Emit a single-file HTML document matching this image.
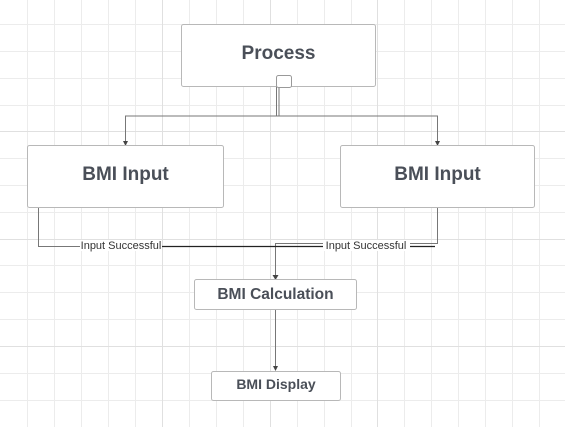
<!DOCTYPE html>
<html><head><meta charset="utf-8"><style>
html,body{margin:0;padding:0;background:#fff;}
svg{display:block;font-family:"Liberation Sans",sans-serif;}
</style></head><body>
<svg width="565" height="427" viewBox="0 0 565 427" xmlns="http://www.w3.org/2000/svg">
<g stroke="#ececec" stroke-width="1">
<line x1="27.5" y1="0" x2="27.5" y2="427"/><line x1="54.5" y1="0" x2="54.5" y2="427"/><line x1="81.5" y1="0" x2="81.5" y2="427"/><line x1="108.5" y1="0" x2="108.5" y2="427"/><line x1="135.5" y1="0" x2="135.5" y2="427"/><line x1="189.5" y1="0" x2="189.5" y2="427"/><line x1="216.5" y1="0" x2="216.5" y2="427"/><line x1="243.5" y1="0" x2="243.5" y2="427"/><line x1="297.5" y1="0" x2="297.5" y2="427"/><line x1="324.5" y1="0" x2="324.5" y2="427"/><line x1="351.5" y1="0" x2="351.5" y2="427"/><line x1="404.5" y1="0" x2="404.5" y2="427"/><line x1="431.5" y1="0" x2="431.5" y2="427"/><line x1="458.5" y1="0" x2="458.5" y2="427"/><line x1="485.5" y1="0" x2="485.5" y2="427"/><line x1="512.5" y1="0" x2="512.5" y2="427"/><line x1="539.5" y1="0" x2="539.5" y2="427"/>
<line x1="0" y1="24.5" x2="565" y2="24.5"/><line x1="0" y1="51.5" x2="565" y2="51.5"/><line x1="0" y1="78.5" x2="565" y2="78.5"/><line x1="0" y1="105.5" x2="565" y2="105.5"/><line x1="0" y1="158.5" x2="565" y2="158.5"/><line x1="0" y1="185.5" x2="565" y2="185.5"/><line x1="0" y1="212.5" x2="565" y2="212.5"/><line x1="0" y1="265.5" x2="565" y2="265.5"/><line x1="0" y1="292.5" x2="565" y2="292.5"/><line x1="0" y1="319.5" x2="565" y2="319.5"/><line x1="0" y1="373.5" x2="565" y2="373.5"/><line x1="0" y1="400.5" x2="565" y2="400.5"/>
</g>
<g stroke="#e0e0e0" stroke-width="1">
<line x1="162.5" y1="0" x2="162.5" y2="427"/><line x1="270.5" y1="0" x2="270.5" y2="427"/><line x1="377.5" y1="0" x2="377.5" y2="427"/>
<line x1="0" y1="131.5" x2="565" y2="131.5"/><line x1="0" y1="239.5" x2="565" y2="239.5"/><line x1="0" y1="346.5" x2="565" y2="346.5"/>
</g>
<g fill="none" stroke="#777" stroke-width="1">
<path d="M276.5 86 V116 H125.5 V143"/>
<path d="M276.5 116 H437.5 V143"/>
<path d="M279 86 V116"/>
<path d="M38.5 207 V246.5 H80"/>
<path d="M437.5 207 V243.5 H275.5 V277"/>
<path d="M275.5 309 V369"/>
</g>
<path d="M162 246.5 H435" stroke="#222" stroke-width="1.2" fill="none"/>
<g fill="#444">
<path d="M123 141 L128 141 L125.5 146 Z"/>
<path d="M435 141 L440 141 L437.5 146 Z"/>
<path d="M272.5 275 L278.5 275 L275.5 280 Z"/>
<path d="M273 366 L278 366 L275.5 371 Z"/>
</g>
<g fill="#fff" stroke="#b8b8b8" stroke-width="1">
<rect x="181.5" y="24.5" width="194" height="62" rx="2"/>
<rect x="27.5" y="145.5" width="196" height="62" rx="2"/>
<rect x="340.5" y="145.5" width="194" height="62" rx="2"/>
<rect x="194.5" y="279.5" width="162" height="30" rx="2"/>
<rect x="211.5" y="371.5" width="129" height="29" rx="2"/>
</g>
<rect x="276.5" y="75.5" width="15" height="12" rx="2" fill="#fff" stroke="#999"/>
<g fill="#4a4f58" font-weight="bold" text-anchor="middle">
<text x="278.5" y="59" font-size="19">Process</text>
<text x="125.5" y="180" font-size="19">BMI Input</text>
<text x="437.5" y="180" font-size="19">BMI Input</text>
<text x="275.5" y="299" font-size="15.5">BMI Calculation</text>
<text x="276" y="389" font-size="14">BMI Display</text>
</g>
<g fill="#333" font-size="11" text-anchor="middle">
<rect x="80" y="240" width="82" height="11" fill="#fff"/>
<text x="121" y="249">Input Successful</text>
<rect x="323" y="240" width="87" height="11" fill="#fff"/>
<text x="366" y="249">Input Successful</text>
</g>
</svg>
</body></html>
